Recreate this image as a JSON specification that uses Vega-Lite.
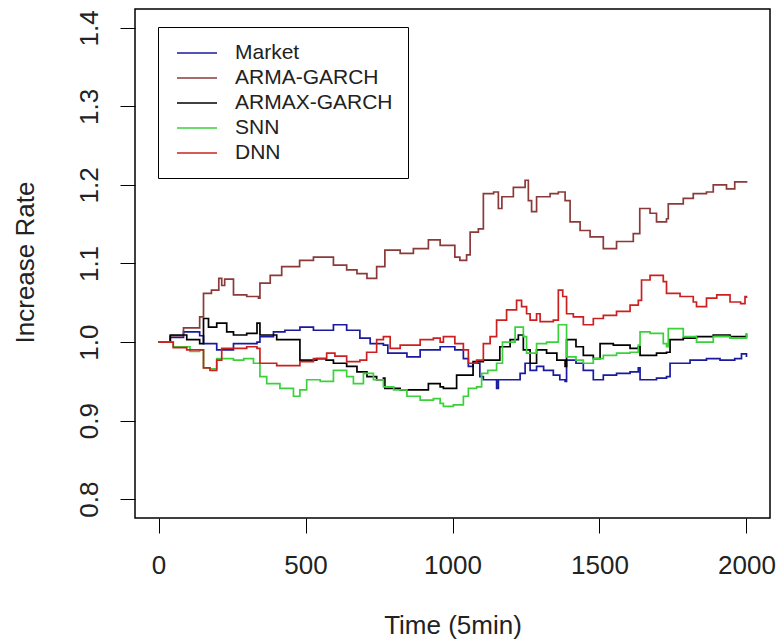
{
"$schema": "https://vega.github.io/schema/vega-lite/v6.json",
"width": 635, "height": 509,
"autosize": {"type": "none"},
"padding": {"left": 135, "top": 9, "right": 8, "bottom": 123},
"background": "white",
"config": {"view": {"stroke": "black", "strokeWidth": 1.5}, "font": "Liberation Sans"},
"data": {"values": [
{"s":"Market","t":0,"v":1.0},{"s":"Market","t":40,"v":1.006},{"s":"Market","t":85,"v":1.013},{"s":"Market","t":140,"v":1.008},{"s":"Market","t":153,"v":0.998},{"s":"Market","t":198,"v":0.99},{"s":"Market","t":255,"v":0.998},{"s":"Market","t":335,"v":1.0},{"s":"Market","t":345,"v":1.007},{"s":"Market","t":391,"v":1.013},{"s":"Market","t":430,"v":1.015},{"s":"Market","t":481,"v":1.019},{"s":"Market","t":527,"v":1.015},{"s":"Market","t":595,"v":1.022},{"s":"Market","t":640,"v":1.015},{"s":"Market","t":685,"v":1.005},{"s":"Market","t":720,"v":0.998},{"s":"Market","t":765,"v":0.996},{"s":"Market","t":780,"v":0.986},{"s":"Market","t":822,"v":0.986},{"s":"Market","t":845,"v":0.981},{"s":"Market","t":890,"v":0.99},{"s":"Market","t":958,"v":0.994},{"s":"Market","t":1008,"v":0.99},{"s":"Market","t":1037,"v":0.979},{"s":"Market","t":1054,"v":0.969},{"s":"Market","t":1070,"v":0.973},{"s":"Market","t":1093,"v":0.956},{"s":"Market","t":1105,"v":0.952},{"s":"Market","t":1150,"v":0.941},{"s":"Market","t":1156,"v":0.952},{"s":"Market","t":1196,"v":0.952},{"s":"Market","t":1230,"v":0.96},{"s":"Market","t":1247,"v":0.973},{"s":"Market","t":1264,"v":0.964},{"s":"Market","t":1286,"v":0.969},{"s":"Market","t":1310,"v":0.964},{"s":"Market","t":1343,"v":0.958},{"s":"Market","t":1365,"v":0.952},{"s":"Market","t":1383,"v":0.95},{"s":"Market","t":1388,"v":0.977},{"s":"Market","t":1420,"v":0.973},{"s":"Market","t":1445,"v":0.964},{"s":"Market","t":1479,"v":0.952},{"s":"Market","t":1513,"v":0.958},{"s":"Market","t":1558,"v":0.96},{"s":"Market","t":1604,"v":0.962},{"s":"Market","t":1632,"v":0.967},{"s":"Market","t":1638,"v":0.952},{"s":"Market","t":1694,"v":0.954},{"s":"Market","t":1728,"v":0.956},{"s":"Market","t":1740,"v":0.973},{"s":"Market","t":1808,"v":0.977},{"s":"Market","t":1864,"v":0.979},{"s":"Market","t":1910,"v":0.977},{"s":"Market","t":1960,"v":0.979},{"s":"Market","t":1983,"v":0.985},{"s":"Market","t":2000,"v":0.981},
{"s":"ARMA-GARCH","t":0,"v":1.0},{"s":"ARMA-GARCH","t":40,"v":1.008},{"s":"ARMA-GARCH","t":85,"v":1.018},{"s":"ARMA-GARCH","t":140,"v":1.032},{"s":"ARMA-GARCH","t":153,"v":1.062},{"s":"ARMA-GARCH","t":180,"v":1.066},{"s":"ARMA-GARCH","t":205,"v":1.081},{"s":"ARMA-GARCH","t":215,"v":1.072},{"s":"ARMA-GARCH","t":225,"v":1.08},{"s":"ARMA-GARCH","t":255,"v":1.06},{"s":"ARMA-GARCH","t":300,"v":1.058},{"s":"ARMA-GARCH","t":340,"v":1.056},{"s":"ARMA-GARCH","t":345,"v":1.075},{"s":"ARMA-GARCH","t":380,"v":1.085},{"s":"ARMA-GARCH","t":419,"v":1.096},{"s":"ARMA-GARCH","t":480,"v":1.104},{"s":"ARMA-GARCH","t":527,"v":1.108},{"s":"ARMA-GARCH","t":555,"v":1.108},{"s":"ARMA-GARCH","t":595,"v":1.098},{"s":"ARMA-GARCH","t":640,"v":1.092},{"s":"ARMA-GARCH","t":675,"v":1.087},{"s":"ARMA-GARCH","t":709,"v":1.081},{"s":"ARMA-GARCH","t":742,"v":1.096},{"s":"ARMA-GARCH","t":770,"v":1.117},{"s":"ARMA-GARCH","t":822,"v":1.113},{"s":"ARMA-GARCH","t":867,"v":1.119},{"s":"ARMA-GARCH","t":918,"v":1.13},{"s":"ARMA-GARCH","t":958,"v":1.123},{"s":"ARMA-GARCH","t":1008,"v":1.108},{"s":"ARMA-GARCH","t":1025,"v":1.104},{"s":"ARMA-GARCH","t":1048,"v":1.111},{"s":"ARMA-GARCH","t":1060,"v":1.14},{"s":"ARMA-GARCH","t":1088,"v":1.144},{"s":"ARMA-GARCH","t":1105,"v":1.189},{"s":"ARMA-GARCH","t":1140,"v":1.191},{"s":"ARMA-GARCH","t":1156,"v":1.17},{"s":"ARMA-GARCH","t":1168,"v":1.185},{"s":"ARMA-GARCH","t":1207,"v":1.197},{"s":"ARMA-GARCH","t":1247,"v":1.206},{"s":"ARMA-GARCH","t":1258,"v":1.18},{"s":"ARMA-GARCH","t":1269,"v":1.166},{"s":"ARMA-GARCH","t":1286,"v":1.185},{"s":"ARMA-GARCH","t":1332,"v":1.189},{"s":"ARMA-GARCH","t":1360,"v":1.191},{"s":"ARMA-GARCH","t":1383,"v":1.18},{"s":"ARMA-GARCH","t":1400,"v":1.153},{"s":"ARMA-GARCH","t":1434,"v":1.142},{"s":"ARMA-GARCH","t":1468,"v":1.134},{"s":"ARMA-GARCH","t":1513,"v":1.119},{"s":"ARMA-GARCH","t":1558,"v":1.128},{"s":"ARMA-GARCH","t":1615,"v":1.138},{"s":"ARMA-GARCH","t":1637,"v":1.17},{"s":"ARMA-GARCH","t":1672,"v":1.164},{"s":"ARMA-GARCH","t":1694,"v":1.153},{"s":"ARMA-GARCH","t":1728,"v":1.157},{"s":"ARMA-GARCH","t":1734,"v":1.176},{"s":"ARMA-GARCH","t":1785,"v":1.183},{"s":"ARMA-GARCH","t":1819,"v":1.189},{"s":"ARMA-GARCH","t":1864,"v":1.191},{"s":"ARMA-GARCH","t":1887,"v":1.2},{"s":"ARMA-GARCH","t":1932,"v":1.195},{"s":"ARMA-GARCH","t":1960,"v":1.204},{"s":"ARMA-GARCH","t":2000,"v":1.205},
{"s":"ARMAX-GARCH","t":0,"v":1.0},{"s":"ARMAX-GARCH","t":40,"v":1.009},{"s":"ARMAX-GARCH","t":96,"v":1.003},{"s":"ARMAX-GARCH","t":140,"v":0.998},{"s":"ARMAX-GARCH","t":153,"v":1.03},{"s":"ARMAX-GARCH","t":170,"v":1.019},{"s":"ARMAX-GARCH","t":198,"v":1.024},{"s":"ARMAX-GARCH","t":232,"v":1.013},{"s":"ARMAX-GARCH","t":255,"v":1.009},{"s":"ARMAX-GARCH","t":300,"v":1.011},{"s":"ARMAX-GARCH","t":335,"v":1.024},{"s":"ARMAX-GARCH","t":345,"v":1.009},{"s":"ARMAX-GARCH","t":380,"v":1.009},{"s":"ARMAX-GARCH","t":402,"v":1.003},{"s":"ARMAX-GARCH","t":459,"v":1.003},{"s":"ARMAX-GARCH","t":481,"v":0.977},{"s":"ARMAX-GARCH","t":538,"v":0.979},{"s":"ARMAX-GARCH","t":570,"v":0.977},{"s":"ARMAX-GARCH","t":595,"v":0.973},{"s":"ARMAX-GARCH","t":640,"v":0.969},{"s":"ARMAX-GARCH","t":675,"v":0.962},{"s":"ARMAX-GARCH","t":709,"v":0.956},{"s":"ARMAX-GARCH","t":742,"v":0.952},{"s":"ARMAX-GARCH","t":765,"v":0.954},{"s":"ARMAX-GARCH","t":770,"v":0.941},{"s":"ARMAX-GARCH","t":822,"v":0.939},{"s":"ARMAX-GARCH","t":867,"v":0.939},{"s":"ARMAX-GARCH","t":918,"v":0.947},{"s":"ARMAX-GARCH","t":958,"v":0.943},{"s":"ARMAX-GARCH","t":969,"v":0.941},{"s":"ARMAX-GARCH","t":1014,"v":0.958},{"s":"ARMAX-GARCH","t":1054,"v":0.958},{"s":"ARMAX-GARCH","t":1070,"v":0.975},{"s":"ARMAX-GARCH","t":1105,"v":0.977},{"s":"ARMAX-GARCH","t":1150,"v":0.977},{"s":"ARMAX-GARCH","t":1161,"v":0.994},{"s":"ARMAX-GARCH","t":1196,"v":1.003},{"s":"ARMAX-GARCH","t":1224,"v":1.009},{"s":"ARMAX-GARCH","t":1241,"v":0.99},{"s":"ARMAX-GARCH","t":1264,"v":0.973},{"s":"ARMAX-GARCH","t":1286,"v":0.99},{"s":"ARMAX-GARCH","t":1320,"v":0.986},{"s":"ARMAX-GARCH","t":1355,"v":0.977},{"s":"ARMAX-GARCH","t":1383,"v":0.969},{"s":"ARMAX-GARCH","t":1388,"v":1.003},{"s":"ARMAX-GARCH","t":1420,"v":0.994},{"s":"ARMAX-GARCH","t":1445,"v":0.983},{"s":"ARMAX-GARCH","t":1479,"v":0.979},{"s":"ARMAX-GARCH","t":1502,"v":0.998},{"s":"ARMAX-GARCH","t":1547,"v":0.996},{"s":"ARMAX-GARCH","t":1604,"v":0.992},{"s":"ARMAX-GARCH","t":1632,"v":0.994},{"s":"ARMAX-GARCH","t":1638,"v":0.983},{"s":"ARMAX-GARCH","t":1694,"v":0.986},{"s":"ARMAX-GARCH","t":1728,"v":0.987},{"s":"ARMAX-GARCH","t":1740,"v":1.003},{"s":"ARMAX-GARCH","t":1785,"v":1.005},{"s":"ARMAX-GARCH","t":1830,"v":1.007},{"s":"ARMAX-GARCH","t":1887,"v":1.009},{"s":"ARMAX-GARCH","t":1944,"v":1.007},{"s":"ARMAX-GARCH","t":2000,"v":1.011},
{"s":"SNN","t":0,"v":1.0},{"s":"SNN","t":50,"v":0.994},{"s":"SNN","t":107,"v":0.988},{"s":"SNN","t":140,"v":0.99},{"s":"SNN","t":153,"v":0.967},{"s":"SNN","t":175,"v":0.966},{"s":"SNN","t":198,"v":0.979},{"s":"SNN","t":255,"v":0.977},{"s":"SNN","t":290,"v":0.979},{"s":"SNN","t":323,"v":0.973},{"s":"SNN","t":345,"v":0.956},{"s":"SNN","t":368,"v":0.947},{"s":"SNN","t":413,"v":0.941},{"s":"SNN","t":459,"v":0.931},{"s":"SNN","t":481,"v":0.939},{"s":"SNN","t":504,"v":0.952},{"s":"SNN","t":550,"v":0.95},{"s":"SNN","t":595,"v":0.964},{"s":"SNN","t":640,"v":0.956},{"s":"SNN","t":663,"v":0.947},{"s":"SNN","t":697,"v":0.96},{"s":"SNN","t":731,"v":0.952},{"s":"SNN","t":765,"v":0.943},{"s":"SNN","t":800,"v":0.939},{"s":"SNN","t":845,"v":0.931},{"s":"SNN","t":890,"v":0.926},{"s":"SNN","t":935,"v":0.928},{"s":"SNN","t":958,"v":0.922},{"s":"SNN","t":969,"v":0.918},{"s":"SNN","t":1003,"v":0.92},{"s":"SNN","t":1037,"v":0.931},{"s":"SNN","t":1054,"v":0.941},{"s":"SNN","t":1082,"v":0.943},{"s":"SNN","t":1099,"v":0.96},{"s":"SNN","t":1120,"v":0.964},{"s":"SNN","t":1150,"v":0.973},{"s":"SNN","t":1170,"v":1.0},{"s":"SNN","t":1213,"v":1.019},{"s":"SNN","t":1241,"v":1.007},{"s":"SNN","t":1252,"v":0.986},{"s":"SNN","t":1286,"v":0.998},{"s":"SNN","t":1320,"v":1.0},{"s":"SNN","t":1360,"v":1.022},{"s":"SNN","t":1388,"v":0.981},{"s":"SNN","t":1420,"v":0.977},{"s":"SNN","t":1445,"v":0.973},{"s":"SNN","t":1479,"v":0.979},{"s":"SNN","t":1513,"v":0.983},{"s":"SNN","t":1558,"v":0.986},{"s":"SNN","t":1604,"v":0.987},{"s":"SNN","t":1632,"v":0.996},{"s":"SNN","t":1638,"v":1.013},{"s":"SNN","t":1672,"v":1.011},{"s":"SNN","t":1717,"v":0.998},{"s":"SNN","t":1728,"v":0.994},{"s":"SNN","t":1734,"v":1.017},{"s":"SNN","t":1785,"v":1.007},{"s":"SNN","t":1830,"v":1.0},{"s":"SNN","t":1887,"v":1.007},{"s":"SNN","t":1944,"v":1.005},{"s":"SNN","t":2000,"v":1.011},
{"s":"DNN","t":0,"v":1.0},{"s":"DNN","t":50,"v":0.993},{"s":"DNN","t":96,"v":0.99},{"s":"DNN","t":140,"v":0.99},{"s":"DNN","t":153,"v":0.967},{"s":"DNN","t":175,"v":0.964},{"s":"DNN","t":198,"v":0.977},{"s":"DNN","t":215,"v":0.992},{"s":"DNN","t":300,"v":0.994},{"s":"DNN","t":335,"v":0.992},{"s":"DNN","t":345,"v":0.973},{"s":"DNN","t":402,"v":0.97},{"s":"DNN","t":436,"v":0.97},{"s":"DNN","t":481,"v":0.975},{"s":"DNN","t":527,"v":0.979},{"s":"DNN","t":572,"v":0.986},{"s":"DNN","t":600,"v":0.982},{"s":"DNN","t":640,"v":0.975},{"s":"DNN","t":685,"v":0.977},{"s":"DNN","t":708,"v":0.987},{"s":"DNN","t":742,"v":1.003},{"s":"DNN","t":765,"v":1.007},{"s":"DNN","t":788,"v":0.992},{"s":"DNN","t":822,"v":0.996},{"s":"DNN","t":890,"v":1.003},{"s":"DNN","t":935,"v":1.005},{"s":"DNN","t":958,"v":1.0},{"s":"DNN","t":969,"v":1.007},{"s":"DNN","t":1008,"v":0.998},{"s":"DNN","t":1037,"v":0.99},{"s":"DNN","t":1054,"v":0.973},{"s":"DNN","t":1082,"v":0.977},{"s":"DNN","t":1105,"v":0.998},{"s":"DNN","t":1128,"v":1.007},{"s":"DNN","t":1150,"v":1.028},{"s":"DNN","t":1184,"v":1.041},{"s":"DNN","t":1218,"v":1.053},{"s":"DNN","t":1235,"v":1.045},{"s":"DNN","t":1252,"v":1.036},{"s":"DNN","t":1264,"v":1.028},{"s":"DNN","t":1286,"v":1.036},{"s":"DNN","t":1298,"v":1.026},{"s":"DNN","t":1343,"v":1.028},{"s":"DNN","t":1360,"v":1.066},{"s":"DNN","t":1375,"v":1.058},{"s":"DNN","t":1388,"v":1.036},{"s":"DNN","t":1411,"v":1.032},{"s":"DNN","t":1445,"v":1.022},{"s":"DNN","t":1479,"v":1.03},{"s":"DNN","t":1513,"v":1.034},{"s":"DNN","t":1558,"v":1.039},{"s":"DNN","t":1604,"v":1.047},{"s":"DNN","t":1632,"v":1.053},{"s":"DNN","t":1643,"v":1.079},{"s":"DNN","t":1672,"v":1.085},{"s":"DNN","t":1717,"v":1.077},{"s":"DNN","t":1728,"v":1.062},{"s":"DNN","t":1774,"v":1.058},{"s":"DNN","t":1819,"v":1.051},{"s":"DNN","t":1830,"v":1.045},{"s":"DNN","t":1864,"v":1.056},{"s":"DNN","t":1899,"v":1.06},{"s":"DNN","t":1944,"v":1.051},{"s":"DNN","t":1980,"v":1.049},{"s":"DNN","t":1995,"v":1.058},{"s":"DNN","t":2000,"v":1.056}
]},
"mark": {"type": "line", "interpolate": "step-after", "strokeWidth": 1.7},
"encoding": {
  "x": {"field": "t", "type": "quantitative",
    "scale": {"domain": [-80, 2080], "nice": false, "zero": false},
    "axis": {"values": [0, 500, 1000, 1500, 2000], "format": "d", "grid": false, "domain": false,
      "tickSize": 15, "tickColor": "black", "tickWidth": 1,
      "labelFontSize": 26, "labelPadding": 40, "labelBaseline": "alphabetic", "labelColor": "#222", "labelFlush": false,
      "title": "Time (5min)", "titleFontSize": 26, "titleFontWeight": "normal", "titleColor": "#222",
      "titleY": 115, "titleBaseline": "alphabetic"}},
  "y": {"field": "v", "type": "quantitative",
    "scale": {"domain": [0.776, 1.424], "nice": false, "zero": false},
    "axis": {"values": [0.8, 0.9, 1.0, 1.1, 1.2, 1.3, 1.4], "format": ".1f", "grid": false, "domain": false,
      "tickSize": 15, "tickColor": "black", "tickWidth": 1,
      "labelAngle": -90, "labelAlign": "center", "labelBaseline": "alphabetic", "labelPadding": 23,
      "labelFontSize": 26, "labelColor": "#222", "labelFlush": false,
      "title": "Increase Rate", "titleFontSize": 26, "titleFontWeight": "normal", "titleColor": "#222",
      "titleAngle": -90, "titleX": -102, "titleY": 253, "titleBaseline": "alphabetic", "titleAlign": "center"}},
  "color": {"field": "s", "type": "nominal",
    "scale": {"domain": ["Market", "ARMA-GARCH", "ARMAX-GARCH", "SNN", "DNN"],
              "range": ["#1a1a9e", "#8b3a3a", "#000000", "#3ad13a", "#cc2020"]},
    "legend": {"orient": "none", "legendX": 23, "legendY": 18, "title": null,
      "strokeColor": "black", "fillColor": "white", "padding": 15,
      "symbolType": "M-2,0H2", "symbolSize": 400, "symbolStrokeWidth": 1.5,
      "labelFontSize": 21, "labelColor": "#222", "labelOffset": 27, "rowPadding": 4, "symbolOffset": 13}}
}
}
